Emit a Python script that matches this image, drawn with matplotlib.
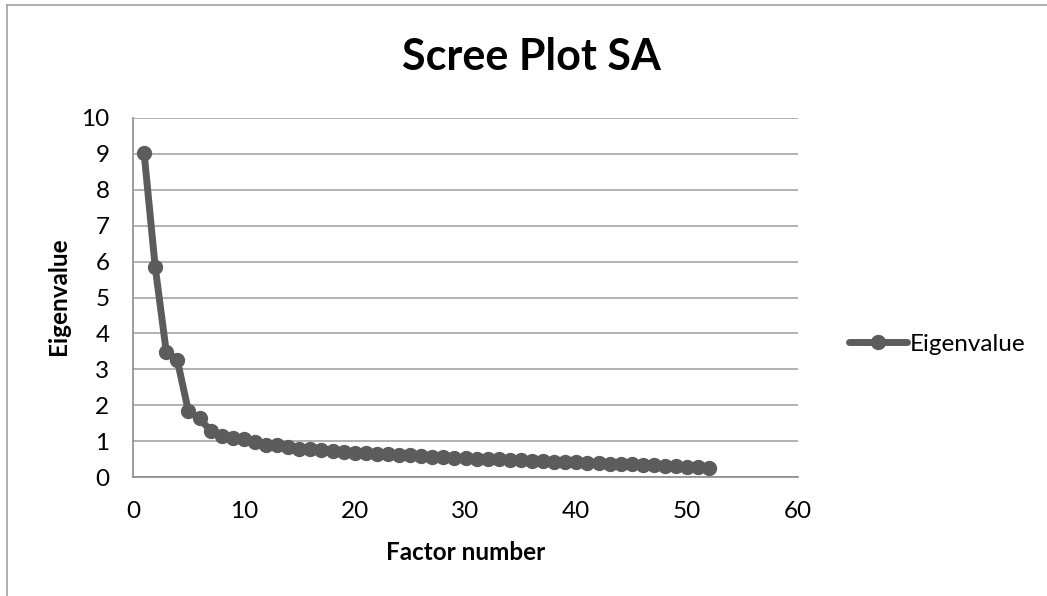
import matplotlib
matplotlib.use("Agg")
import matplotlib.pyplot as plt
from matplotlib.lines import Line2D

# eigenvalues, one per factor
factors = list(range(1, 53))
eigenvalues = [
    9.03, 5.86, 3.49, 3.25, 1.83, 1.63, 1.29, 1.13, 1.08, 1.06,
    0.97, 0.90, 0.88, 0.84, 0.79, 0.77, 0.75, 0.73, 0.71, 0.68,
    0.66, 0.65, 0.64, 0.62, 0.60, 0.58, 0.57, 0.56, 0.54, 0.52,
    0.51, 0.50, 0.49, 0.47, 0.46, 0.45, 0.44, 0.43, 0.42, 0.41,
    0.40, 0.39, 0.37, 0.36, 0.35, 0.34, 0.33, 0.32, 0.30, 0.28,
    0.27, 0.26,
]
x_ticks = [0, 10, 20, 30, 40, 50, 60]
y_ticks = list(range(0, 11))

plt.rcParams['font.family'] = ['Lato', 'DejaVu Sans']

W, H = 1047, 596
fig = plt.figure(figsize=(W / 100, H / 100), dpi=100)
ax = fig.add_axes([133 / W, 1 - 477 / H, (798 - 133) / W, (477 - 118) / H])

line_col = '#5c5c5c'
grid_col = '#a6a6a6'

ax.plot(factors, eigenvalues, color=line_col, lw=5, marker='o', ms=10,
        mfc=line_col, mec=line_col, solid_capstyle='round', label='Eigenvalue')

ax.set_xlim(0, 60)
ax.set_ylim(0, 10)
ax.set_xticks(x_ticks)
ax.set_yticks(y_ticks)
ax.yaxis.grid(True, color=grid_col, lw=1.2)
ax.set_axisbelow(True)
ax.tick_params(length=0, labelsize=17.5, colors='black')
ax.tick_params(axis='y', pad=17)
ax.tick_params(axis='x', pad=17)
for side in ['top', 'right']:
    ax.spines[side].set_visible(False)
for side in ['left', 'bottom']:
    ax.spines[side].set_color('#8c8c8c')
    ax.spines[side].set_linewidth(1.2)

fig.text(531 / W, 1 - 57 / H, 'Scree Plot SA', ha='center', va='center',
         fontsize=31, fontweight='bold')
fig.text(466 / W, 1 - 552 / H, 'Factor number', ha='center', va='center',
         fontsize=17.5, fontweight='bold')
fig.text(59 / W, 1 - 296 / H, 'Eigenvalue', ha='center', va='center',
         rotation=90, fontsize=17.5, fontweight='bold')

fig.legend(loc='center left', bbox_to_anchor=(849 / W, 1 - 344 / H),
           frameon=False, fontsize=17.5, handlelength=2.4, handletextpad=0.1,
           borderpad=0, borderaxespad=0)

# chart frame (left and top edges visible in the crop)
fig.add_artist(Line2D([7 / W, 7 / W], [0, 1 - 5 / H], color='#a0a0a0', lw=1.2,
                      transform=fig.transFigure))
fig.add_artist(Line2D([7 / W, 1], [1 - 5 / H, 1 - 5 / H], color='#a0a0a0', lw=1.2,
                      transform=fig.transFigure))

fig.savefig('out.png', dpi=100)
